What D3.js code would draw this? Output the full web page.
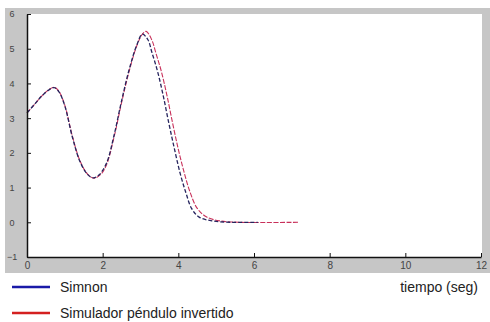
<!DOCTYPE html>
<html><head><meta charset="utf-8">
<script src="https://cdn.jsdelivr.net/npm/d3@7/dist/d3.min.js"></script>
<style>body{margin:0;background:#fff}svg{display:block}</style>
</head><body>
<svg id="c" width="490" height="322"></svg>
<script>
const xTicks = [0, 2, 4, 6, 8, 10, 12];
const yTicks = [-1, 0, 1, 2, 3, 4, 5, 6];
const simnonT = [0,0.2,0.4,0.6,0.72,0.85,1.0,1.2,1.4,1.6,1.75,1.9,2.1,2.3,2.5,2.7,2.9,3.05,3.2,3.3,3.45,3.6,3.75,3.9,4.05,4.2,4.35,4.55,4.9,5.4,6.1];
const simnonV = [3.15,3.4,3.65,3.83,3.88,3.75,3.35,2.45,1.75,1.38,1.28,1.36,1.7,2.5,3.5,4.4,5.1,5.42,5.25,4.9,4.35,3.65,2.85,2.1,1.4,0.85,0.4,0.15,0.04,0,0];
const simT = [0,0.2,0.4,0.6,0.72,0.85,1.0,1.2,1.4,1.6,1.77,1.95,2.1,2.3,2.5,2.7,2.9,3.05,3.15,3.3,3.4,3.55,3.7,3.85,4.0,4.15,4.3,4.5,4.75,5.1,5.6,7.2];
const simV = [3.15,3.4,3.65,3.84,3.89,3.76,3.37,2.48,1.77,1.39,1.27,1.38,1.65,2.45,3.45,4.35,5.08,5.42,5.5,5.25,4.9,4.35,3.65,2.85,2.1,1.45,0.9,0.4,0.15,0.04,0,0];
const legendNames = ["Simnon", "Simulador péndulo invertido"];
const xLabel = "tiempo (seg)";

const svg = d3.select("#c");
const x = d3.scaleLinear().domain([0, 12]).range([27, 481]);
const y = d3.scaleLinear().domain([-1, 6]).range([257, 14]);

svg.append("rect").attr("x", 5).attr("y", 8).attr("width", 485).attr("height", 265).attr("fill", "#c6c6c6");
svg.append("rect").attr("x", 27).attr("y", 14).attr("width", 455).attr("height", 243).attr("fill", "#fff");

const line = d3.line().x((d) => x(d[0])).y((d) => y(d[1])).curve(d3.curveCatmullRom);
const red = simT.map((t, i) => [t, simV[i]]);
const blue = simnonT.map((t, i) => [t, simnonV[i]]);
svg.append("path").attr("d", line(red)).attr("fill", "none").attr("stroke", "#c8305a").attr("stroke-width", 1.1).attr("stroke-dasharray", "5,1.5");
svg.append("path").attr("d", line(blue)).attr("fill", "none").attr("stroke", "#26245e").attr("stroke-width", 1.3).attr("stroke-dasharray", "4,2");

const xAxis = d3.axisBottom(x).tickValues(xTicks).tickFormat(d3.format("d")).tickSizeInner(-4).tickSizeOuter(0).tickPadding(5);
const gx = svg.append("g").attr("transform", "translate(0,257)").call(xAxis);
gx.select(".domain").attr("stroke", "#111").attr("stroke-width", 1.5);
gx.selectAll(".tick line").attr("stroke", "#111");
gx.selectAll("text").attr("font-family", "Liberation Sans, Arial, sans-serif").attr("font-size", 10).attr("fill", "#444");

const yAxis = d3.axisLeft(y).tickValues(yTicks).tickFormat(d3.format("d")).tickSizeInner(-4).tickSizeOuter(0).tickPadding(15);
const gy = svg.append("g").attr("transform", "translate(27,0)").call(yAxis);
gy.select(".domain").attr("stroke", "#111").attr("stroke-width", 1.5);
gy.selectAll(".tick line").attr("stroke", "#111");
gy.selectAll("text").attr("text-anchor", "middle").attr("font-family", "Liberation Sans, Arial, sans-serif").attr("font-size", 9).attr("fill", "#444");

const legColors = ["#1a1aa8", "#d42020"];
legendNames.forEach((n, i) => {
  const ly = 287 + i * 26;
  svg.append("line").attr("x1", 12).attr("x2", 50).attr("y1", ly).attr("y2", ly).attr("stroke", legColors[i]).attr("stroke-width", 2.5);
  svg.append("text").attr("x", 60).attr("y", ly + 5).text(n).attr("font-family", "Liberation Sans, Arial, sans-serif").attr("font-size", 14).attr("fill", "#222");
});
svg.append("text").attr("x", 478).attr("y", 292).attr("text-anchor", "end").text(xLabel).attr("font-family", "Liberation Sans, Arial, sans-serif").attr("font-size", 14).attr("fill", "#222");
</script>
</body></html>
